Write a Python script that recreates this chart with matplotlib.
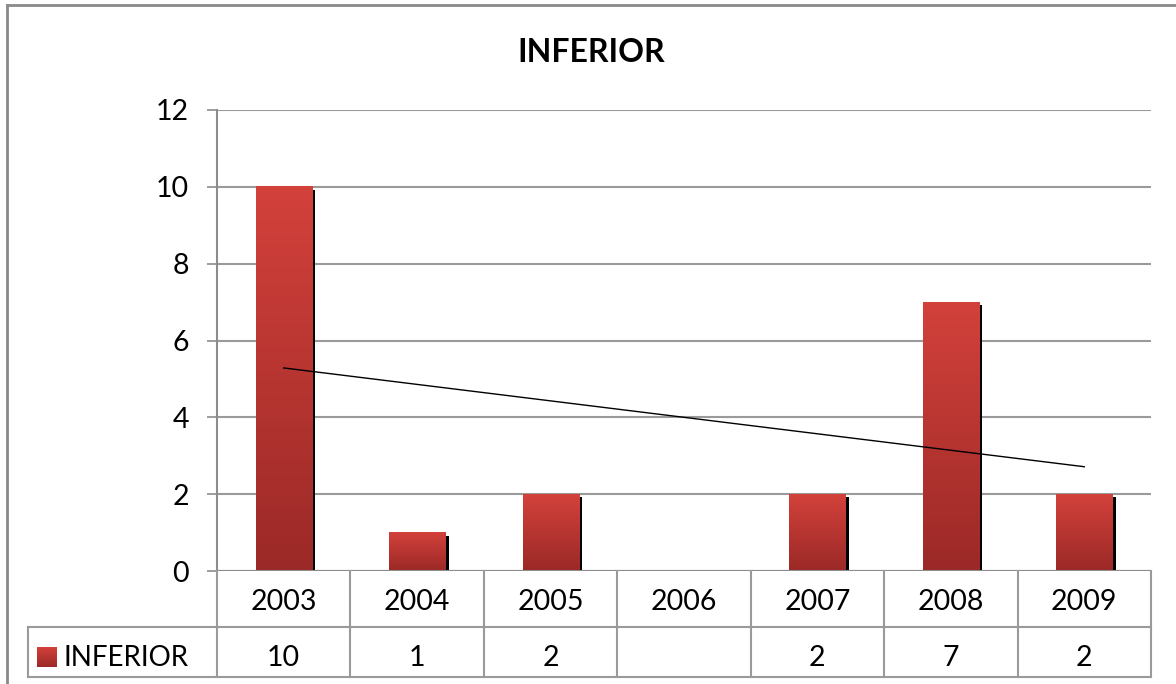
import numpy as np
import matplotlib.pyplot as plt
import matplotlib.transforms as mtransforms
from matplotlib.colors import LinearSegmentedColormap
from matplotlib.lines import Line2D

# Données
annees = ['2003', '2004', '2005', '2006', '2007', '2008', '2009']
valeurs = [10, 1, 2, np.nan, 2, 7, 2]
serie = 'INFERIOR'
titre = 'INFERIOR'
graduations_y = [0, 2, 4, 6, 8, 10, 12]

plt.rcParams['font.family'] = ['Lato', 'DejaVu Sans']

W, H = 1176, 684
fig = plt.figure(figsize=(W / 100, H / 100), dpi=100)
fig.patch.set_facecolor('white')

# zone du graphique (en pixels)
gauche, droite, haut, bas = 217, 1151, 110, 571
ax = fig.add_axes([gauche / W, 1 - bas / H, (droite - gauche) / W, (bas - haut) / H])

x = np.arange(len(annees))
ax.set_xlim(-0.5, len(annees) - 0.5)
ax.set_ylim(0, 12)

# dégradé rouge des barres
rouge = LinearSegmentedColormap.from_list('rouge', ['#9B2927', '#D3413B'])
grad = np.linspace(0, 1, 256).reshape(-1, 1)

largeur = 0.42
px_x = (len(annees)) / (droite - gauche)
px_y = 12 / (bas - haut)
for xi, v in zip(x, valeurs):
    if np.isnan(v):
        continue
    # ombre noire
    ax.bar(xi + 3.5 * px_x, v - 3 * px_y, width=largeur, bottom=0, color='black', zorder=2)
    ax.imshow(grad, cmap=rouge, origin='lower', aspect='auto',
              extent=[xi - largeur / 2, xi + largeur / 2, 0, v], zorder=3)

# courbe de tendance linéaire
ok = ~np.isnan(valeurs)
a, b = np.polyfit(x[ok], np.array(valeurs)[ok], 1)
ax.plot([x[0], x[-1]], [a * x[0] + b, a * x[-1] + b], color='black', lw=1, zorder=4)

# grille et axes
ax.set_yticks(graduations_y)
ax.yaxis.grid(True, color='#9A9A9A', lw=1.5)
ax.set_axisbelow(True)
ax.set_xticks([])
ax.tick_params(axis='y', length=7, width=1.2, color='#8C8C8C', labelsize=20.5, pad=13)
for s in ['top', 'right', 'bottom']:
    ax.spines[s].set_visible(False)
ax.spines['left'].set_color('#8C8C8C')
ax.spines['left'].set_linewidth(1.5)
ax.axhline(0, color='#8C8C8C', lw=1.5, zorder=5)

fig.text(591 / W, 1 - 52 / H, titre, ha='center', va='center',
         fontsize=23, fontweight='bold')

# tableau de données
tr = mtransforms.blended_transform_factory(ax.transData, fig.transFigure)
def fy(p):
    return 1 - p / H

ligne = dict(color='#9A9A9A', lw=1.5)
y_haut, y_mil, y_bas = 571, 627, 677
fig.add_artist(Line2D([28 / W, droite / W], [fy(y_mil)] * 2, **ligne))
fig.add_artist(Line2D([28 / W, droite / W], [fy(y_bas)] * 2, **ligne))
fig.add_artist(Line2D([28 / W] * 2, [fy(y_mil), fy(y_bas)], **ligne))
for xi in list(x - 0.5) + [x[-1] + 0.5]:
    fig.add_artist(Line2D([xi, xi], [fy(y_haut), fy(y_bas)], transform=tr, **ligne))

for xi, an, v in zip(x, annees, valeurs):
    ax.text(xi, fy(602), an, transform=tr, ha='center', va='center', fontsize=20.5)
    if not np.isnan(v):
        ax.text(xi, fy(658), f'{v:.0f}', transform=tr, ha='center', va='center', fontsize=20.5)

# légende dans le tableau
leg = fig.add_axes([37 / W, fy(667), 20 / W, 20 / H])
leg.imshow(grad, cmap=rouge, origin='lower', aspect='auto')
leg.axis('off')
fig.text(64 / W, fy(658), serie, ha='left', va='center', fontsize=20)

# cadre extérieur
cadre = dict(color='#8A8A8A', lw=2)
fig.add_artist(Line2D([7 / W, 1], [fy(5)] * 2, **cadre))
fig.add_artist(Line2D([7 / W] * 2, [fy(5), 0], **cadre))

fig.savefig('out.png', dpi=100)
